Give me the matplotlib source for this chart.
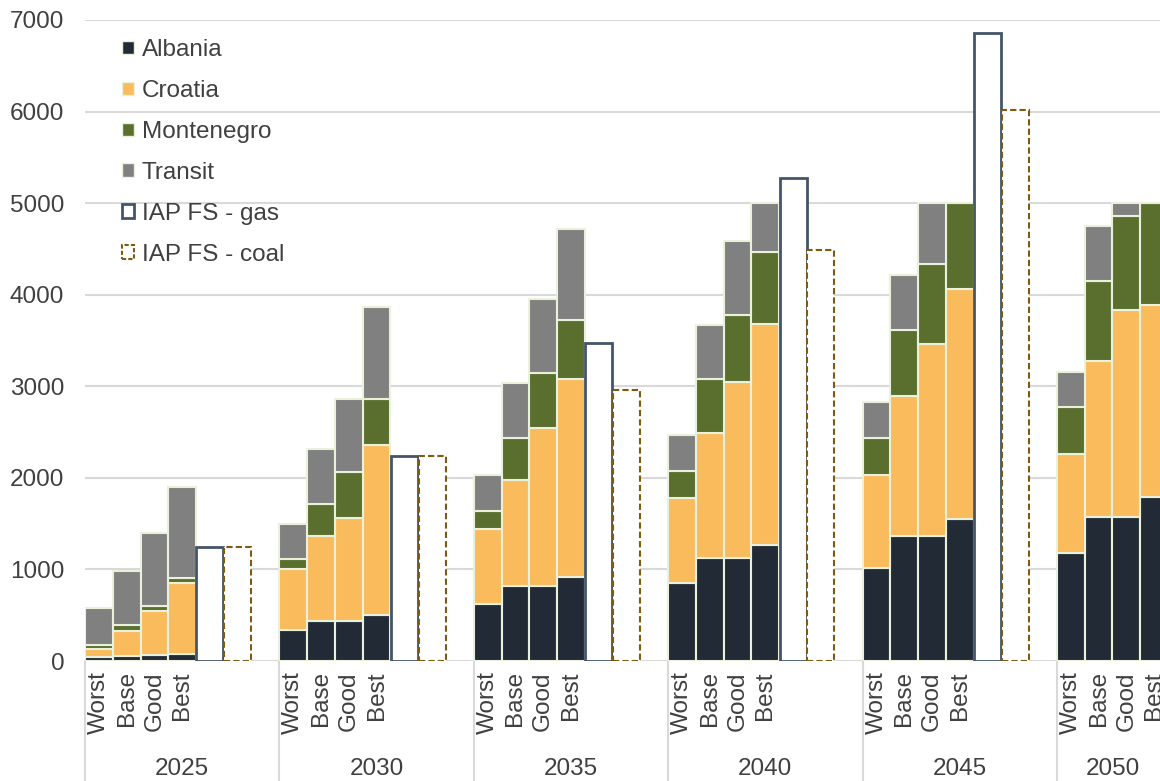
import numpy as np
import matplotlib
matplotlib.use('Agg')
import matplotlib.pyplot as plt
from matplotlib.patches import Patch
from matplotlib.transforms import blended_transform_factory

plt.rcParams['font.family'] = ['Liberation Sans', 'DejaVu Sans']

# data
years = ['2025', '2030', '2035', '2040', '2045', '2050']
scenarios = ['Worst', 'Base', 'Good', 'Best']
albania = [[45, 60, 65, 75], [340, 440, 440, 500], [620, 815, 815, 920],
           [850, 1130, 1130, 1265], [1020, 1360, 1360, 1555], [1180, 1570, 1570, 1790]]
croatia = [[85, 270, 480, 780], [660, 920, 1120, 1860], [820, 1165, 1725, 2155],
           [930, 1355, 1920, 2415], [1010, 1535, 2100, 2505], [1080, 1705, 2265, 2100]]
montenegro = [[45, 60, 55, 55], [110, 350, 500, 500], [200, 460, 610, 645],
              [290, 590, 730, 785], [400, 725, 870, 940], [510, 880, 1025, 1110]]
transit = [[400, 590, 800, 990], [390, 600, 800, 1010], [390, 600, 800, 995],
           [400, 595, 805, 535], [400, 600, 670, 0], [390, 595, 140, 0]]
iap_gas = [1240, 2235, 3470, 5280, 6860]   # 2050 is cut off in the source
iap_coal = [1240, 2235, 2960, 4490, 6020]

series = [('Albania', albania, '#222b35'),
          ('Croatia', croatia, '#f9bb5c'),
          ('Montenegro', montenegro, '#5a6e2e'),
          ('Transit', transit, '#808080')]

txt = '#404040'
grid = '#d9d9d9'
fs = 17.5
slots = 7  # 4 scenarios + gas + coal + gap
xmax = (1160 - 85) / 27.77

fig = plt.figure(figsize=(11.6, 7.81), dpi=100)
ax = fig.add_axes([85 / 1160, 120 / 781, 1 - 85 / 1160, 641 / 781])

# stacked scenario bars
for g in range(len(years)):
    x = g * slots + np.arange(4) + 0.5
    bottom = np.zeros(4)
    for name, vals, col in series:
        v = np.array(vals[g], dtype=float)
        ax.bar(x, v, 1.0, bottom=bottom, color=col, edgecolor='#e9f0dc',
               linewidth=1.5, zorder=3)
        bottom += v

# IAP FS reference bars
gx = np.arange(len(iap_gas)) * slots + 4.5
cx = np.arange(len(iap_coal)) * slots + 5.5
ax.bar(gx, iap_gas, 0.97, color='white', edgecolor='#44546a', linewidth=2, zorder=3)
ax.bar(cx, iap_coal, 0.97, color='white', edgecolor='#7f5a0f', linewidth=1.5,
       linestyle=(0, (3, 1.5)), zorder=3)

ax.set_xlim(0, xmax)
ax.set_ylim(0, 7000)
ax.set_yticks(range(0, 7001, 1000))
ax.yaxis.grid(True, color=grid, linewidth=1.5, zorder=0)
ax.tick_params(axis='y', length=0, labelsize=fs, labelcolor=txt, pad=15)
ax.set_xticks([])
for s in ax.spines.values():
    s.set_visible(False)

# category axis: scenario labels, year labels and separators
tr = blended_transform_factory(ax.transData, ax.transAxes)
for g, yr in enumerate(years):
    for i, sc in enumerate(scenarios):
        ax.text(g * slots + i + 0.5, -0.016, sc, rotation=90, ha='center', va='top',
                fontsize=fs, color=txt, transform=tr)
    # last group is clipped, so its label sits in the visible part
    xc = min(g * slots + 3.5, (g * slots + xmax) / 2 + 0.15)
    ax.text(xc, -0.168, yr, ha='center', va='center',
            fontsize=fs, color=txt, transform=tr)
    ax.plot([g * slots, g * slots], [0, -0.2], color=grid, linewidth=1.5,
            transform=tr, clip_on=False)

handles = [Patch(facecolor=c, edgecolor='#e9f0dc', label=n) for n, _, c in series]
handles.append(Patch(facecolor='white', edgecolor='#44546a', linewidth=2,
                     label='IAP FS - gas'))
handles.append(Patch(facecolor='white', edgecolor='#7f5a0f', linewidth=1.5,
                     linestyle=(0, (2, 1)), label='IAP FS - coal'))
leg = fig.legend(handles=handles, loc='upper left', bbox_to_anchor=(110 / 1160, 1 - 27 / 781),
                 frameon=False, fontsize=fs, handlelength=0.5, handleheight=0.5,
                 handletextpad=0.3, labelspacing=0.78, borderpad=0)
for t in leg.get_texts():
    t.set_color(txt)

fig.savefig('out.png', dpi=100)
